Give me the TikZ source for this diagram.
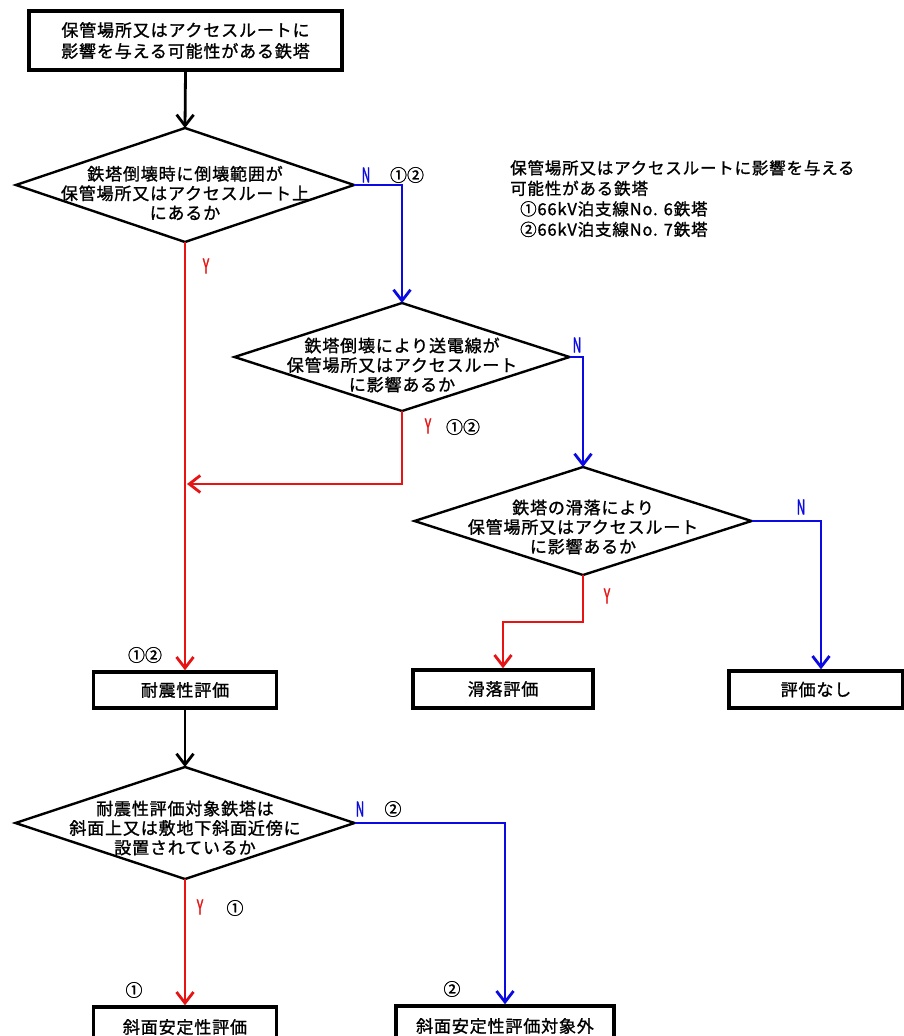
\documentclass[tikz,border=0pt]{standalone}
\usepackage{fontspec}
\usepackage{graphicx}
\usetikzlibrary{shapes.geometric,arrows.meta,calc}
\newfontfamily\jp{Noto Sans CJK JP}[LetterSpace=5,FakeBold=1.2]
\newfontfamily\jpn{Noto Sans CJK JP}[FakeBold=1.2]
\newfontfamily\lat{Noto Sans CJK JP}[FakeBold=2]
\definecolor{ablue}{RGB}{10,10,225}
\definecolor{ared}{RGB}{230,20,20}
\newcommand\yn[1]{{\lat\fontsize{20}{20}\selectfont\scalebox{0.6}[1]{#1}}}
\begin{document}
\begin{tikzpicture}[x=1pt,y=-1pt,
  box/.style={draw,line width=3.4pt,inner sep=0,fill=white,font=\jp\fontsize{17}{21}\selectfont,align=center},
  dia/.style={draw,diamond,line width=2.4pt,inner sep=0,outer sep=0},
  dtxt/.style={inner sep=0,align=center,font=\jp\fontsize{17}{19.5}\selectfont},
  lab/.style={inner sep=0,font=\jpn\fontsize{17}{17}\selectfont},
  conn/.style={line width=2.8pt,-{Straight Barb[length=11pt,width=17pt,line width=2.8pt]}}]
\useasboundingbox (0,0) rectangle (904,1036);
\clip (0,0) rectangle (904,1036);
\fill[white] (0,0) rectangle (904,1036);

% boxes
\node[box,minimum width=313pt,minimum height=59pt] (b0) at (185.5,40.5) {保管場所又はアクセスルートに\\影響を与える可能性がある鉄塔};
\node[box,minimum width=183pt,minimum height=36pt] (b1) at (185,690) {耐震性評価};
\node[box,minimum width=180pt,minimum height=38pt] (b2) at (503,689) {滑落評価};
\node[box,minimum width=174pt,minimum height=37pt] (b3) at (816,689.5) {評価なし};
\node[box,minimum width=183pt,minimum height=40pt] (b4) at (185,1027) {斜面安定性評価};
\node[box,minimum width=218pt,minimum height=40pt] (b5) at (505,1026) {斜面安定性評価対象外};

% diamonds
\node[dia,minimum width=338pt,minimum height=114pt] (d1) at (185,185) {};
\node[dtxt] (d1t) at (185,193) {鉄塔倒壊時に倒壊範囲が\\保管場所又はアクセスルート上\\にあるか};
\node[dia,minimum width=335pt,minimum height=108pt] (d2) at (402,357) {};
\node[dtxt] (d2t) at (402,365) {鉄塔倒壊により送電線が\\保管場所又はアクセスルート\\に影響あるか};
\node[dia,minimum width=337pt,minimum height=108pt] (d3) at (583,521) {};
\node[dtxt] (d3t) at (583,527) {鉄塔の滑落により\\保管場所又はアクセスルート\\に影響あるか};
\node[dia,minimum width=339pt,minimum height=112pt] (d4) at (185,823) {};
\node[dtxt] (d4t) at (185,828) {耐震性評価対象鉄塔は\\斜面上又は敷地下斜面近傍に\\設置されているか};

% note
\node[anchor=north west,align=left,inner sep=0,font=\jp\fontsize{16.5}{20.5}\selectfont] (note) at (510,160)
  {保管場所又はアクセスルートに影響を与える\\可能性がある鉄塔\\\hspace{10pt}①66kV泊支線No. 6鉄塔\\\hspace{10pt}②66kV泊支線No. 7鉄塔};

% junction coordinates
\coordinate (j1) at (187,484);
\coordinate (j2) at (0,622);
\coordinate (j3) at (821,0);

% connectors
\draw[conn] (b0.south) -- (d1.north);
\draw[conn,ablue] (d1.east) -| (d2.north);
\draw[conn,ared] (d1.south) -- (b1.north);
\draw[conn,ablue] (d2.east) -| (d3.north);
\draw[conn,ared] (d2.south) |- (j1);
\draw[conn,ablue] (d3.east) -| (j3 |- b3.north);
\draw[conn,ared] (d3.south) -- (d3.south |- j2) -| (b2.north);
\draw[conn] (b1.south) -- (d4.north);
\draw[conn,ared] (d4.south) -- (b4.north);
\draw[conn,ablue] (d4.east) -| (b5.north);

% labels
\node[lab,text=ablue] (n1) at (366,175) {\yn{N}};
\node[lab] (c1) at (407,175) {①②};
\node[lab,text=ared] (y1) at (206,266) {\yn{Y}};
\node[lab,text=ablue] (n2) at (577,345) {\yn{N}};
\node[lab,text=ared] (y2) at (428,426) {\yn{Y}};
\node[lab] (c2) at (463,427) {①②};
\node[lab,text=ablue] (n3) at (801,507) {\yn{N}};
\node[lab,text=ared] (y3) at (607,596) {\yn{Y}};
\node[lab] (c3) at (145,655) {①②};
\node[lab,text=ablue] (n4) at (360,809) {\yn{N}};
\node[lab] (c4) at (393,809) {②};
\node[lab,text=ared] (y4) at (200,907) {\yn{Y}};
\node[lab] (c5) at (235,908) {①};
\node[lab] (c6) at (134,990) {①};
\node[lab] (c7) at (452,989) {②};
\end{tikzpicture}
\end{document}
